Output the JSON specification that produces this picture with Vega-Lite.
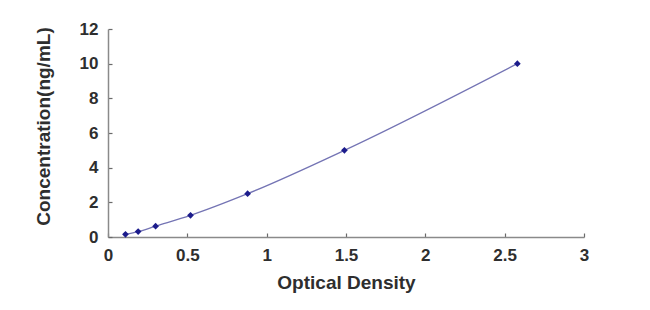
{
  "$schema": "https://vega.github.io/schema/vega-lite/v6.json",
  "width": 476,
  "height": 208,
  "autosize": {"type": "none"},
  "padding": {"left": 108, "top": 29, "right": 66, "bottom": 73},
  "background": "white",
  "config": {
    "view": {"stroke": null},
    "axis": {
      "grid": false,
      "domainColor": "#8a8a8a",
      "domainWidth": 1.5,
      "tickColor": "#6a6a6a",
      "tickSize": -4,
      "tickWidth": 1.2,
      "labelFlush": false,
      "labelFont": "Liberation Sans",
      "labelFontWeight": "bold",
      "labelFontSize": 17,
      "labelColor": "#2e2e2e",
      "titleFont": "Liberation Sans",
      "titleFontWeight": "bold",
      "titleFontSize": 19,
      "titleColor": "#2e2e2e"
    }
  },
  "data": {
    "values": [
      {"od": 0.11, "conc": 0.156},
      {"od": 0.19, "conc": 0.312},
      {"od": 0.30, "conc": 0.625},
      {"od": 0.52, "conc": 1.25},
      {"od": 0.88, "conc": 2.5},
      {"od": 1.49, "conc": 5},
      {"od": 2.58, "conc": 10}
    ]
  },
  "encoding": {
    "x": {
      "field": "od", "type": "quantitative",
      "scale": {"domain": [0, 3], "nice": false},
      "axis": {"values": [0, 0.5, 1, 1.5, 2, 2.5, 3], "format": "~g", "title": "Optical Density", "labelPadding": 14, "titlePadding": 10}
    },
    "y": {
      "field": "conc", "type": "quantitative",
      "scale": {"domain": [0, 12], "nice": false},
      "axis": {"values": [0, 2, 4, 6, 8, 10, 12], "title": "Concentration(ng/mL)", "labelPadding": 14, "titlePadding": 26, "titleY": 97, "titleAlign": "center"}
    }
  },
  "layer": [
    {"mark": {"type": "line", "interpolate": "monotone", "color": "#7474b4", "strokeWidth": 1.3}},
    {"mark": {"type": "point", "shape": "diamond", "filled": true, "color": "#1c1c8c", "size": 45, "opacity": 1}}
  ]
}
